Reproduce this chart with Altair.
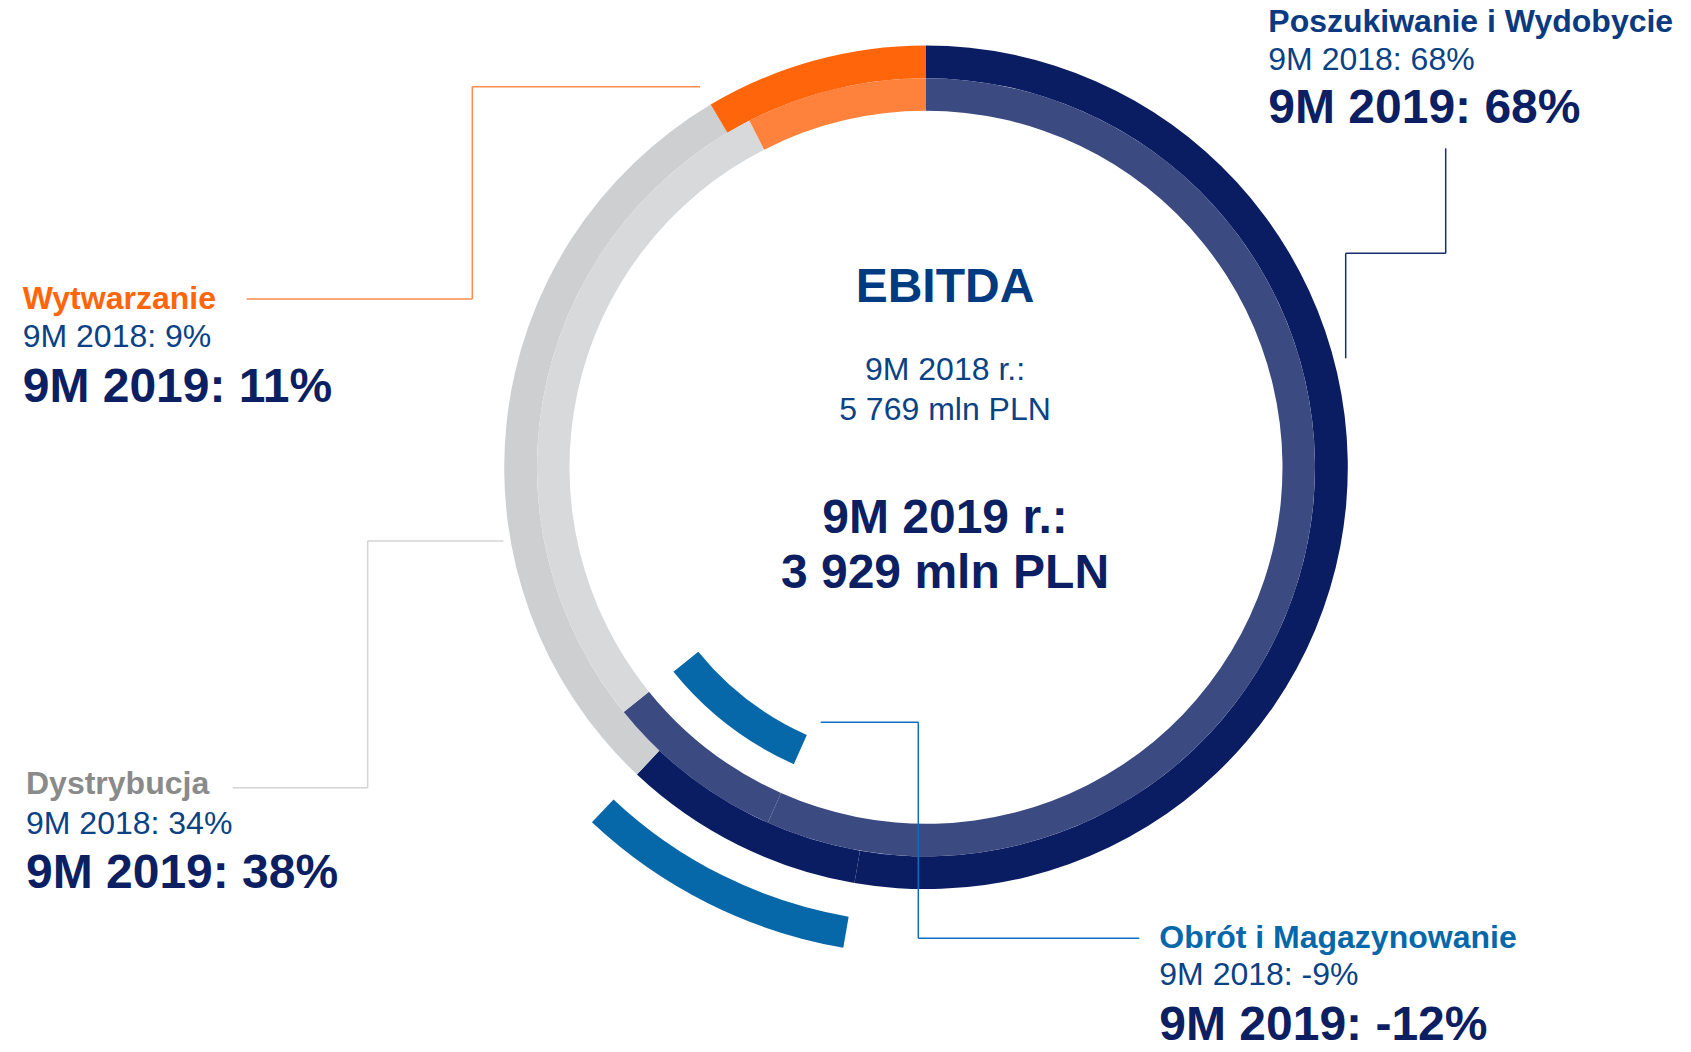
import altair as alt
import pandas as pd

# ---------------- data ----------------
segments = ["Poszukiwanie i Wydobycie", "Obrót i Magazynowanie", "Dystrybucja", "Wytwarzanie"]
keys = ["piw", "obr", "dys", "wyt"]
share_2018 = [68, -9, 34, 9]
share_2019 = [68, -12, 38, 11]
ebitda_2018 = 5769
ebitda_2019 = 3929

# ---------------- styles / layout ----------------
FONT = "Liberation Sans"
CX, CY = 918, 459.3
ring_colors = {
    "piw_2019": "#0b1d62", "piw_2018": "#3c4a82",
    "dys_2019": "#cdcfd1", "dys_2018": "#d8d9db",
    "wyt_2019": "#ff650b", "wyt_2018": "#fe823c",
}
BLUE = "#0768a9"
name_colors = {"piw": "#0b3a80", "obr": "#0768a9", "dys": "#8a8a8a", "wyt": "#ff650b"}
C2018 = "#0a4285"
C2019 = "#0c1f63"
# label anchor (x, baseline of name, baseline of 2018 line, baseline of 2019 line)
anchors = {
    "piw": (1260.3, 23.7, 62.0, 115.3),
    "wyt": (14.7, 301.3, 339.3, 393.7),
    "dys": (18.0, 786.3, 826.0, 880.3),
    "obr": (1151.3, 940.3, 977.0, 1032.0),
}

# ---------------- ring table built from the arrays ----------------
rows = []
for year, shares in (("2018", share_2018), ("2019", share_2019)):
    total = sum(abs(s) for s in shares)
    cum = 0
    for key, seg, s in zip(keys, segments, shares):
        start = cum / total
        cum += abs(s)
        end = cum / total
        ring_key = ("piw" if s < 0 else key) + "_" + year
        rows.append(dict(year=year, key=key, segment=seg, share=s,
                         start=start, end=end, ring=ring_key))
df = pd.DataFrame(rows)

theta_scale = alt.Scale(domain=[0, 1], range=[0, 6.283185307179586])


def arcs(year, r_out, r_in, negative=False):
    base = alt.Chart(df).transform_filter(alt.datum.year == year)
    if negative:
        base = base.transform_filter(alt.datum.share < 0)
        color = alt.value(BLUE)
    else:
        color = alt.Color("ring:N", legend=None,
                          scale=alt.Scale(domain=list(ring_colors.keys()),
                                          range=list(ring_colors.values())))
    return base.mark_arc(radius=r_out, radius2=r_in).encode(
        theta=alt.Theta("start:Q", stack=None, scale=theta_scale),
        theta2="end:Q",
        x=alt.value(CX), y=alt.value(CY),
        color=color,
    )


outer = arcs("2019", 421.8, 389.0)
inner = arcs("2018", 389.0, 356.5)
outer_neg = arcs("2019", 487.5, 456.0, negative=True)
inner_neg = arcs("2018", 325.0, 293.0, negative=True)

# ---------------- labels ----------------
lab_rows = []
for key, seg, a, b in zip(keys, segments, share_2018, share_2019):
    x, y1, y2, y3 = anchors[key]
    lab_rows.append(dict(key=key, name=seg,
                         l2018=f"9M 2018: {a}%", l2019=f"9M 2019: {b}%",
                         x=x, y1=y1, y2=y2, y3=y3, ncol=name_colors[key]))
labels = pd.DataFrame(lab_rows)

name_layer = alt.Chart(labels).mark_text(
    font=FONT, fontSize=32, fontWeight="bold", align="left", baseline="alphabetic"
).encode(x=alt.X("x:Q", scale=None), y=alt.Y("y1:Q", scale=None),
         text="name:N", color=alt.Color("ncol:N", scale=None))
l2018_layer = alt.Chart(labels).mark_text(
    font=FONT, fontSize=32, align="left", baseline="alphabetic", color=C2018
).encode(x=alt.X("x:Q", scale=None), y=alt.Y("y2:Q", scale=None), text="l2018:N")
l2019_layer = alt.Chart(labels).mark_text(
    font=FONT, fontSize=48, fontWeight="bold", align="left", baseline="alphabetic", color=C2019
).encode(x=alt.X("x:Q", scale=None), y=alt.Y("y3:Q", scale=None), text="l2019:N")


def fmt(v):
    return f"{v:,}".replace(",", " ")


center = pd.DataFrame([
    dict(t="EBITDA", y=293.7, s="big", c="#003a80"),
    dict(t="9M 2018 r.:", y=372.0, s="small", c=C2018),
    dict(t=f"{fmt(ebitda_2018)} mln PLN", y=412.0, s="small", c=C2018),
    dict(t="9M 2019 r.:", y=525.3, s="big", c=C2019),
    dict(t=f"{fmt(ebitda_2019)} mln PLN", y=580.3, s="big", c=C2019),
])
center_big = alt.Chart(center).transform_filter(alt.datum.s == "big").mark_text(
    font=FONT, fontSize=48, fontWeight="bold", align="center", baseline="alphabetic"
).encode(x=alt.value(937), y=alt.Y("y:Q", scale=None), text="t:N",
         color=alt.Color("c:N", scale=None))
center_small = alt.Chart(center).transform_filter(alt.datum.s == "small").mark_text(
    font=FONT, fontSize=32, align="center", baseline="alphabetic"
).encode(x=alt.value(937), y=alt.Y("y:Q", scale=None), text="t:N",
         color=alt.Color("c:N", scale=None))

# ---------------- leader lines ----------------
def seg_rule(x1, y1, x2, y2, color, w=1.5):
    return alt.Chart(center).transform_filter(alt.datum.t == "EBITDA").mark_rule(
        color=color, strokeWidth=w
    ).encode(x=alt.value(x1), x2=alt.value(x2), y=alt.value(y1), y2=alt.value(y2))


leaders = [
    # Poszukiwanie i Wydobycie
    seg_rule(1437.7, 140.3, 1437.7, 245.3, "#1b2c6e"),
    seg_rule(1337.7, 245.3, 1437.7, 245.3, "#1b2c6e"),
    seg_rule(1337.7, 245.3, 1337.7, 350.3, "#1b2c6e"),
    # Wytwarzanie
    seg_rule(464.3, 78.7, 692.0, 78.7, "#ff8c4d"),
    seg_rule(464.3, 78.7, 464.3, 291.0, "#ff8c4d"),
    seg_rule(238.7, 291.0, 464.3, 291.0, "#ff8c4d"),
    # Dystrybucja
    seg_rule(359.7, 533.0, 495.3, 533.0, "#d4d4d4"),
    seg_rule(359.7, 533.0, 359.7, 779.7, "#d4d4d4"),
    seg_rule(224.7, 779.7, 359.7, 779.7, "#d4d4d4"),
]
obr_leaders = [
    seg_rule(812.7, 714.3, 910.3, 714.3, "#0a6fc0"),
    seg_rule(910.3, 714.3, 910.3, 930.3, "#0a6fc0"),
    seg_rule(910.3, 930.3, 1131.3, 930.3, "#0a6fc0"),
]

chart = alt.layer(
    *leaders, outer, inner, outer_neg, inner_neg, *obr_leaders,
    center_big, center_small, name_layer, l2018_layer, l2019_layer,
).resolve_scale(color="independent").properties(
    width=1675, height=1036, padding=0, autosize="none", background="white"
).configure_view(stroke=None)

chart.save("out.html", embed_options={"renderer": "svg", "actions": False})
